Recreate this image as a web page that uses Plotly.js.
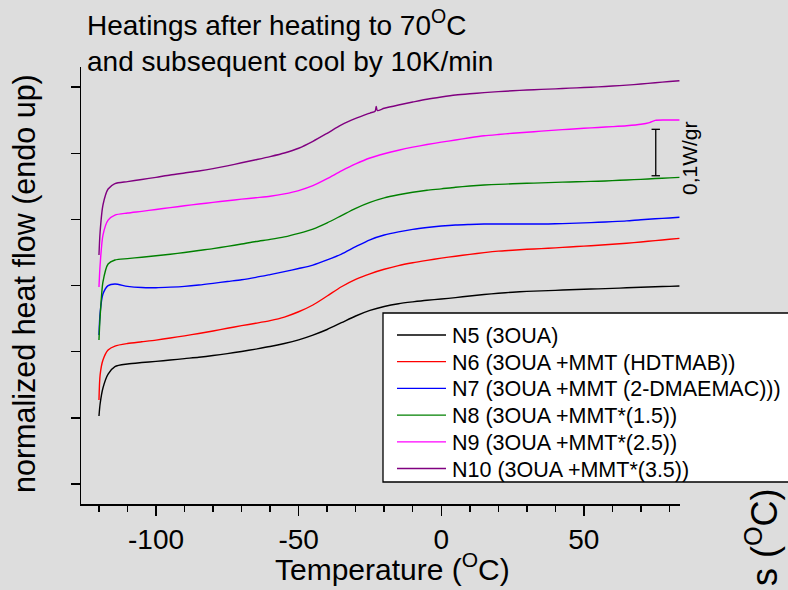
<!DOCTYPE html>
<html>
<head>
<meta charset="utf-8">
<script src="https://cdn.plot.ly/plotly-3.0.1.min.js"></script>
<style>html,body{margin:0;padding:0;background:#dddddd;}#chart{width:788px;height:590px;}</style>
</head>
<body>
<div id="chart"></div>
<script>
// Temperatures (°C) sampled along the heating curves
const temps    = [-120, -119.6, -118.6, -116.8, -114.4, -110, -105, -100, -95, -90, -85, -80, -75, -70, -65, -60, -55, -50, -45, -40, -35, -30, -25, -20, -15, -10, -5, 0, 5, 10, 15, 20, 25, 30, 35, 40, 45, 50, 55, 60, 65, 70, 75, 80, 83.5];
const tempsN9  = [-120, -119.6, -118.6, -116.8, -114.4, -110, -105, -100, -95, -90, -85, -80, -75, -70, -65, -60, -55, -50, -45, -40, -35, -30, -25, -20, -15, -10, -5, 0, 5, 10, 15, 20, 25, 30, 35, 40, 45, 50, 55, 60, 65, 70, 73, 75, 80, 83.5];
const tempsN10 = [-120, -119.6, -118.6, -116.8, -114.4, -110, -105, -100, -95, -90, -85, -80, -75, -70, -65, -60, -55, -50, -45, -40, -35, -30, -25, -23.2, -22.8, -22.4, -20, -15, -10, -5, 0, 5, 10, 15, 20, 25, 30, 35, 40, 45, 50, 55, 60, 65, 70, 75, 80, 83.5];

// normalized heat flow (arbitrary offset units, endo up)
const n5  = [0.514, 0.605, 0.726, 0.831, 0.888, 0.907, 0.918, 0.927, 0.937, 0.948, 0.958, 0.971, 0.986, 1.002, 1.020, 1.039, 1.062, 1.090, 1.126, 1.168, 1.219, 1.270, 1.312, 1.342, 1.363, 1.377, 1.389, 1.398, 1.409, 1.421, 1.432, 1.442, 1.450, 1.456, 1.460, 1.464, 1.468, 1.472, 1.475, 1.479, 1.483, 1.487, 1.491, 1.494, 1.497];
const n6  = [0.635, 0.824, 0.937, 1.013, 1.043, 1.062, 1.075, 1.088, 1.104, 1.120, 1.138, 1.157, 1.177, 1.197, 1.215, 1.235, 1.262, 1.302, 1.353, 1.421, 1.491, 1.547, 1.589, 1.623, 1.651, 1.672, 1.690, 1.707, 1.722, 1.736, 1.749, 1.760, 1.767, 1.774, 1.779, 1.785, 1.792, 1.798, 1.805, 1.812, 1.820, 1.829, 1.840, 1.850, 1.857];
const n7  = [1.126, 1.293, 1.436, 1.500, 1.512, 1.494, 1.485, 1.484, 1.488, 1.494, 1.504, 1.517, 1.531, 1.544, 1.562, 1.583, 1.605, 1.629, 1.655, 1.694, 1.738, 1.794, 1.846, 1.882, 1.906, 1.925, 1.939, 1.950, 1.958, 1.962, 1.965, 1.965, 1.965, 1.965, 1.965, 1.967, 1.970, 1.974, 1.978, 1.983, 1.989, 1.998, 2.005, 2.011, 2.016];
const n8  = [1.088, 1.262, 1.527, 1.663, 1.693, 1.704, 1.714, 1.725, 1.737, 1.750, 1.765, 1.779, 1.796, 1.814, 1.833, 1.849, 1.868, 1.895, 1.927, 1.974, 2.029, 2.084, 2.129, 2.163, 2.186, 2.205, 2.220, 2.231, 2.243, 2.252, 2.260, 2.265, 2.269, 2.273, 2.276, 2.280, 2.283, 2.286, 2.289, 2.293, 2.298, 2.303, 2.309, 2.314, 2.318];
const n9  = [1.489, 1.655, 1.882, 1.995, 2.033, 2.048, 2.061, 2.075, 2.089, 2.103, 2.116, 2.129, 2.141, 2.153, 2.164, 2.175, 2.193, 2.218, 2.255, 2.308, 2.366, 2.419, 2.464, 2.496, 2.523, 2.546, 2.566, 2.584, 2.600, 2.617, 2.632, 2.642, 2.651, 2.659, 2.667, 2.675, 2.682, 2.689, 2.695, 2.701, 2.708, 2.719, 2.732, 2.749, 2.751, 2.751];
const n10 = [1.731, 1.905, 2.109, 2.230, 2.271, 2.286, 2.302, 2.318, 2.336, 2.351, 2.366, 2.384, 2.405, 2.428, 2.451, 2.475, 2.502, 2.538, 2.590, 2.651, 2.714, 2.763, 2.804, 2.818, 2.853, 2.823, 2.840, 2.865, 2.887, 2.908, 2.925, 2.940, 2.950, 2.958, 2.966, 2.972, 2.978, 2.983, 2.987, 2.992, 2.997, 3.002, 3.008, 3.015, 3.023, 3.033, 3.042, 3.048];

const seriesNames = ["N5 (3OUA)", "N6 (3OUA +MMT (HDTMAB))", "N7 (3OUA +MMT (2-DMAEMAC)))", "N8 (3OUA +MMT*(1.5))", "N9 (3OUA +MMT*(2.5))", "N10 (3OUA +MMT*(3.5))"];
const seriesColors = ["#000000", "#ff0000", "#0000ff", "#008000", "#ff00ff", "#800080"];

const xTickVals = [-100, -50, 0, 50];
const xTickText = ["-100", "-50", "0", "50"];
const xMinorVals = [-120, -110, -90, -80, -70, -60, -40, -30, -20, -10, 10, 20, 30, 40, 60, 70, 80];

// scale bar (0,1 W/gr)
const scaleBarT = [75.2, 75.2];
const scaleBarY = [2.330, 2.681];

const FONT = "Liberation Sans, Arial, sans-serif";
const xs = [temps, temps, temps, temps, tempsN9, tempsN10];
const ys = [n5, n6, n7, n8, n9, n10];

const traces = ys.map((y, i) => ({
  type: "scatter", mode: "lines", x: xs[i], y: y, name: seriesNames[i], showlegend: false,
  line: {color: seriesColors[i], width: 1.4, shape: "spline", smoothing: 0.7}
}));
traces.push({
  type: "scatter", mode: "lines+markers", x: scaleBarT, y: scaleBarY, showlegend: false,
  line: {color: "#000000", width: 1.3},
  marker: {symbol: "line-ew", size: 6, line: {color: "#000000", width: 1.3}}
});

// pixel -> paper helpers for text / legend placement (plot area 81..680 x 67..504)
const L = 81, R = 680, T = 67, B = 504;
const px = v => (v - L) / (R - L);
const py = v => (B - v) / (B - T);

// legend box drawn to match the reference's legend
const legTop = 313, legBottom = 482, legLeft = 383, legRowFirst = 335, legRowStep = 26.7;
const shapes = [{
  type: "rect", xref: "paper", yref: "paper", layer: "above",
  x0: px(legLeft), x1: px(800), y0: py(legBottom), y1: py(legTop),
  fillcolor: "#ffffff", line: {color: "#000000", width: 1.3}
}];
const annotations = [];
seriesNames.forEach((name, i) => {
  const yc = legRowFirst + i * legRowStep;
  shapes.push({type: "line", xref: "paper", yref: "paper", layer: "above",
    x0: px(397), x1: px(446), y0: py(yc), y1: py(yc), line: {color: seriesColors[i], width: 1.3}});
  annotations.push({xref: "paper", yref: "paper", x: px(450), y: py(yc + 1), xanchor: "left", yanchor: "middle",
    showarrow: false, text: name, font: {family: FONT, size: 21.5, color: "#000000"}});
});

annotations.push(
  {xref: "paper", yref: "paper", x: px(85), y: py(3), xanchor: "left", yanchor: "top", align: "left", showarrow: false,
   text: "Heatings after heating to 70<sup>O</sup>C<br>and subsequent cool by 10K/min", font: {family: FONT, size: 28}},
  {xref: "paper", yref: "paper", x: px(392), y: py(567), xanchor: "center", yanchor: "middle", showarrow: false,
   text: "Temperature (<sup>O</sup>C)", font: {family: FONT, size: 30}},
  {xref: "paper", yref: "paper", x: px(24), y: py(284), xanchor: "center", yanchor: "middle", showarrow: false, textangle: -90,
   text: "normalized heat flow (endo up)", font: {family: FONT, size: 30.5}},
  {xref: "paper", yref: "paper", x: px(689), y: py(158), xanchor: "center", yanchor: "middle", showarrow: false, textangle: -90,
   text: "0,1W/gr", font: {family: FONT, size: 21}},
  {xref: "paper", yref: "paper", x: px(762), y: py(537), xanchor: "center", yanchor: "middle", showarrow: false, textangle: -90,
   text: "s (<sup>O</sup>C)", font: {family: FONT, size: 36}}
);

const layout = {
  width: 788, height: 590,
  margin: {l: L, r: 788 - R, t: T, b: 590 - B, autoexpand: false},
  paper_bgcolor: "#dddddd", plot_bgcolor: "#dddddd",
  font: {family: FONT, color: "#000000"},
  showlegend: false,
  xaxis: {
    range: [-126.3, 83.7], showgrid: false, zeroline: false,
    showline: true, linecolor: "#000000", linewidth: 1.5,
    ticks: "outside", ticklen: 10, tickwidth: 1.5, tickcolor: "#000000",
    tickmode: "array", tickvals: xTickVals, ticktext: xTickText,
    tickfont: {family: FONT, size: 28, color: "#000000"},
    minor: {tickmode: "array", tickvals: xMinorVals, ticks: "outside", ticklen: 6, tickwidth: 1.5, tickcolor: "#000000"}
  },
  yaxis: {
    range: [-0.151, 3.152], showgrid: false, zeroline: false,
    showline: true, linecolor: "#000000", linewidth: 1.5,
    ticks: "outside", ticklen: 9, tickwidth: 1.5, tickcolor: "#000000",
    tickmode: "linear", tick0: 0, dtick: 0.5, showticklabels: false
  },
  shapes: shapes,
  annotations: annotations
};

Plotly.newPlot("chart", traces, layout, {displayModeBar: false, staticPlot: true});
</script>
</body>
</html>
